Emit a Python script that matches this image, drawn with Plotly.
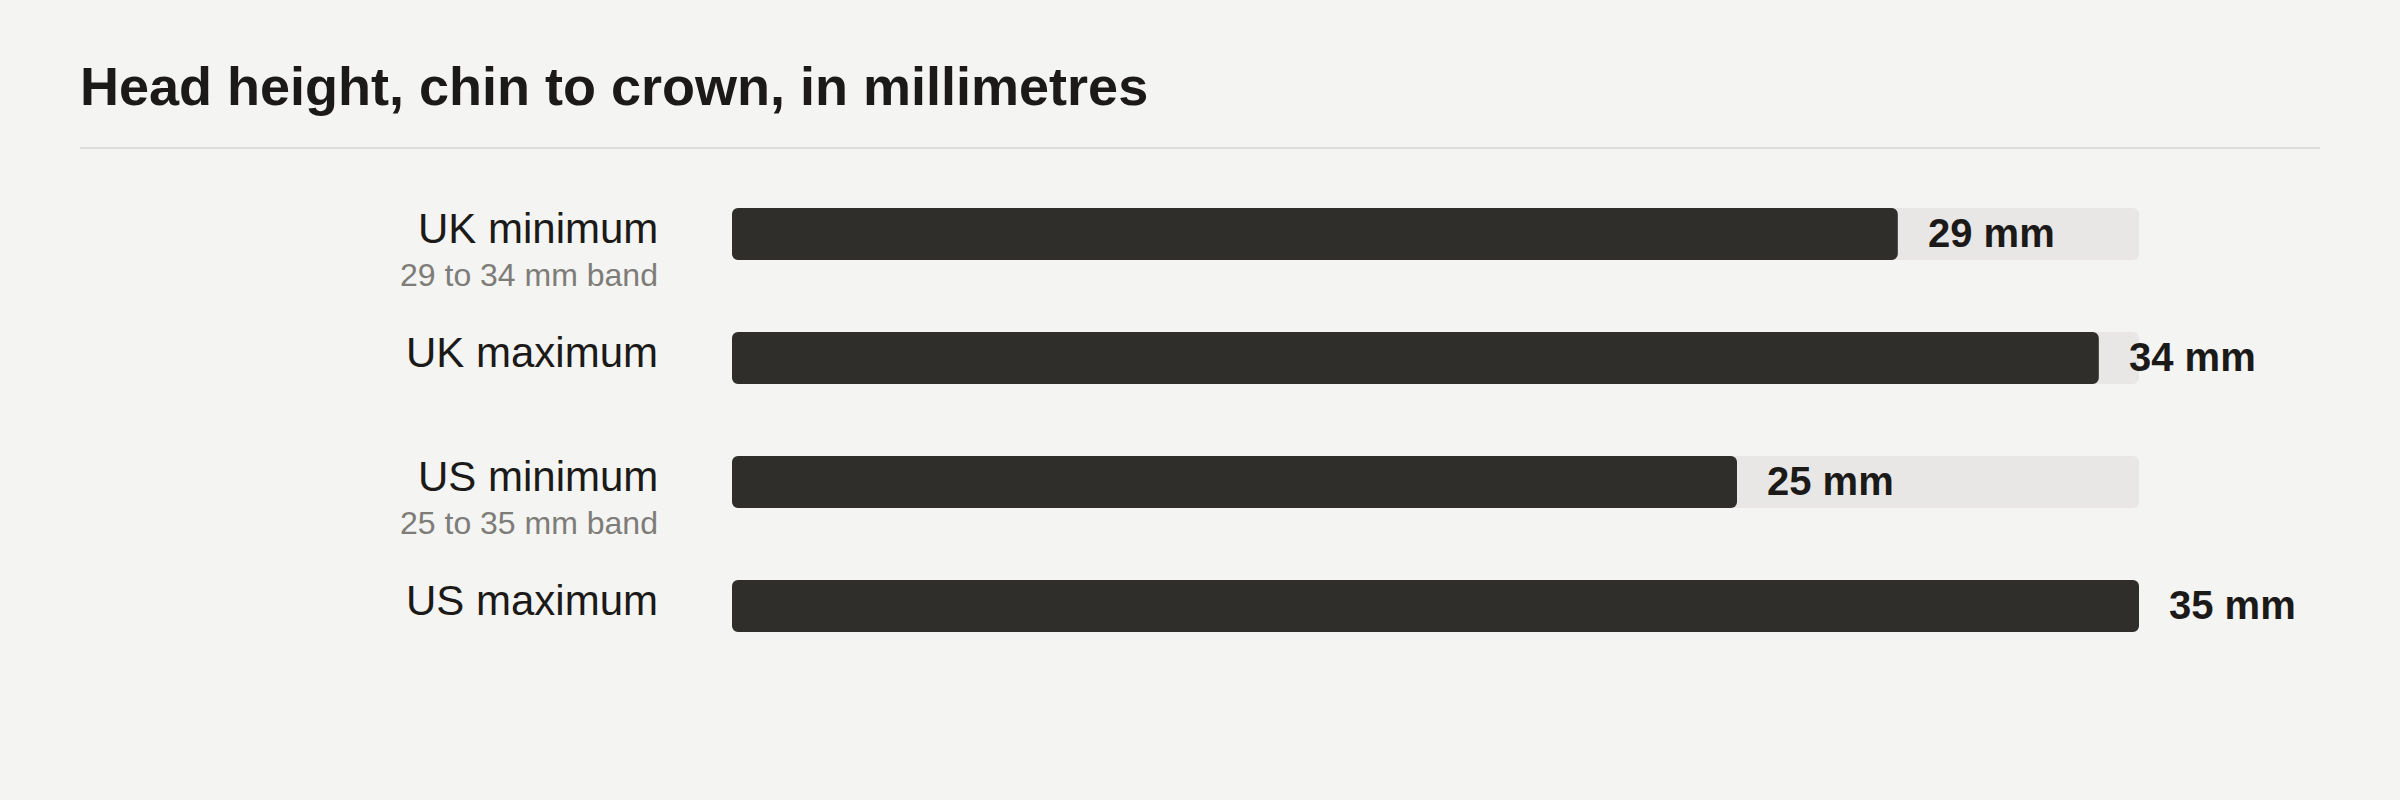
import plotly.graph_objects as go

# rows, top to bottom
rows = ["UK minimum", "UK maximum", "US minimum", "US maximum"]
values_mm = [29, 34, 25, 35]
value_labels = ["29 mm", "34 mm", "25 mm", "35 mm"]
band_notes = ["29 to 34 mm band", "", "25 to 35 mm band", ""]
track_max = [35, 35, 35, 35]
title_text = "Head height, chin to crown, in millimetres"

FONT = "Liberation Sans, Arial, Helvetica, sans-serif"
BG = "#f4f4f2"
INK = "#1b1a18"
BAR = "#2f2e2a"
TRACK = "#e8e7e5"
MUTED = "#7e7c78"

W, H = 2400, 800
ML, MR, MT, MB = 732, 261, 172, 132
plot_w = W - ML - MR
plot_h = H - MT - MB


def rounded_bar(vals, color):
    # plotly only rounds the far end of a bar, so each bar is two
    # overlapping pieces: one grows right (round right end), the
    # other grows left back to zero (round left end)
    out = []
    out.append(go.Bar(
        x=[v * 2 / 3 for v in vals], base=[v / 3 for v in vals],
        y=rows, orientation="h",
        marker=dict(color=color, line=dict(width=0)),
        width=0.42, hoverinfo="skip", showlegend=False,
    ))
    out.append(go.Bar(
        x=[-v * 2 / 3 for v in vals], base=[v * 2 / 3 for v in vals],
        y=rows, orientation="h",
        marker=dict(color=color, line=dict(width=0)),
        width=0.42, hoverinfo="skip", showlegend=False,
    ))
    return out


fig = go.Figure()
for tr in rounded_bar(track_max, TRACK) + rounded_bar(values_mm, BAR):
    fig.add_trace(tr)

annotations = []
for r, v, lab, note in zip(rows, values_mm, value_labels, band_notes):
    # value label just past the end of the bar
    annotations.append(dict(
        x=v, y=r, xref="x", yref="y", text=lab, showarrow=False,
        xanchor="left", yanchor="middle", xshift=28, yshift=1,
        font=dict(family=FONT, size=40, color=INK, weight="bold"),
    ))
    # row name
    annotations.append(dict(
        x=0, y=r, xref="paper", yref="y", text=r, showarrow=False,
        xanchor="right", yanchor="middle", xshift=-72, yshift=6,
        font=dict(family=FONT, size=42, color=INK),
    ))
    if note:
        annotations.append(dict(
            x=0, y=r, xref="paper", yref="y", text=note, showarrow=False,
            xanchor="right", yanchor="middle", xshift=-72, yshift=-41,
            font=dict(family=FONT, size=32, color=MUTED),
        ))

fig.update_layout(
    width=W, height=H,
    paper_bgcolor=BG, plot_bgcolor=BG,
    margin=dict(l=ML, r=MR, t=MT, b=MB),
    barmode="overlay",
    barcornerradius=6,
    showlegend=False,
    title=dict(
        text=title_text, x=80 / W, xref="container", xanchor="left",
        y=1 - 86 / H, yref="container", yanchor="middle",
        font=dict(family=FONT, size=54, color=INK, weight="bold"),
    ),
    xaxis=dict(range=[0, 35], visible=False, fixedrange=True),
    yaxis=dict(
        type="category", categoryorder="array", categoryarray=rows,
        autorange="reversed", showticklabels=False, showgrid=False,
        zeroline=False, showline=False, fixedrange=True,
    ),
    annotations=annotations,
    shapes=[dict(
        type="line", xref="paper", yref="paper",
        x0=(80 - ML) / plot_w, x1=(2320 - ML) / plot_w,
        y0=(H - MB - 148) / plot_h, y1=(H - MB - 148) / plot_h,
        line=dict(color="#dddcda", width=2),
    )],
)

fig.write_html(
    "out.html",
    config={"displayModeBar": False},
    post_script="document.body.style.margin='0';document.body.style.background='#f4f4f2';",
)
